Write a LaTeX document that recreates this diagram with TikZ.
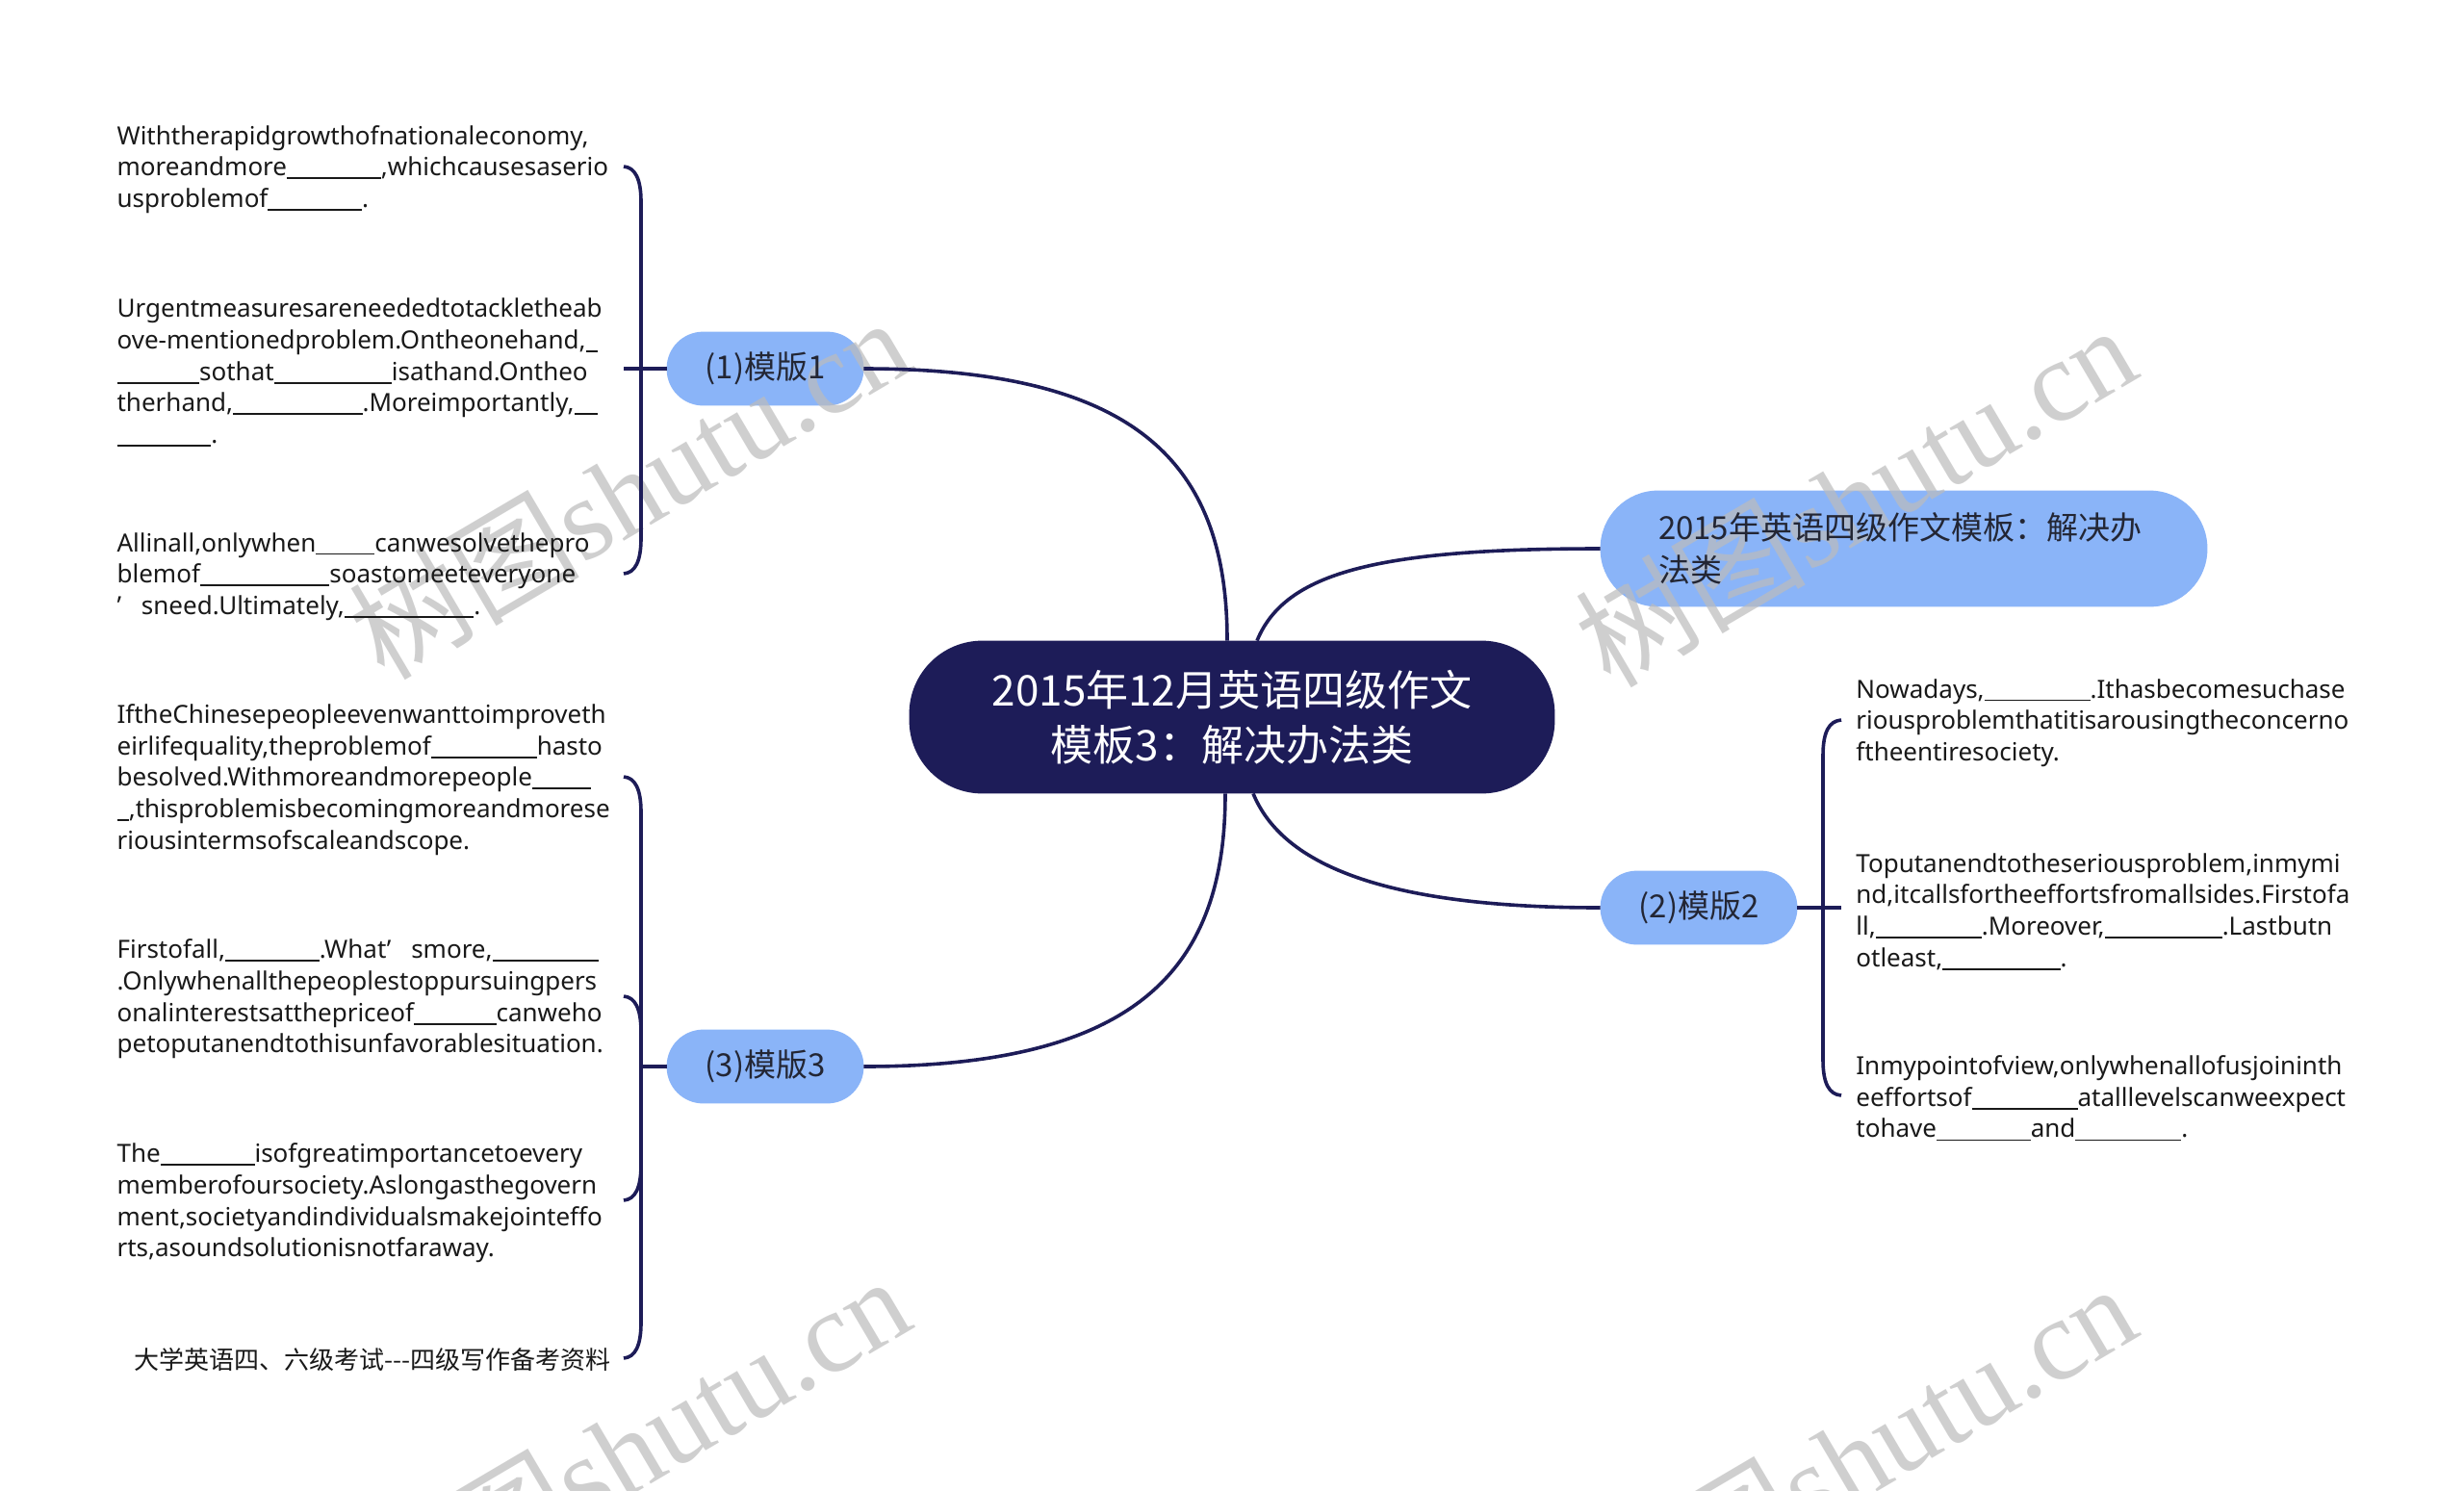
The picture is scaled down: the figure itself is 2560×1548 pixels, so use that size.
\documentclass[tikz,border=0pt]{standalone}
\usepackage{fontspec}
\setmainfont{Noto Sans}
\newfontfamily\cjk{Noto Sans CJK SC}
\newfontfamily\wmfont{Liberation Serif}
\usetikzlibrary{calc}
\definecolor{navy}{RGB}{29,28,88}
\definecolor{lblue}{RGB}{138,180,248}
\definecolor{ink}{RGB}{35,38,52}
\definecolor{notecol}{RGB}{25,25,25}
\definecolor{wmcol}{RGB}{188,188,188}
\newdimen\blkunit
\newcommand\blk[1]{\blkunit=0.47em\relax\rule[-0.13em]{#1\blkunit}{0.07em}}
\pgfdeclarelayer{bg}
\pgfdeclarelayer{wml}
\pgfsetlayers{bg,wml,main}
\begin{document}
\begin{tikzpicture}[x=0.5pt,y=-0.5pt,
  rootbox/.style={text=white, minimum width=335pt, minimum height=79pt,
    align=center, inner sep=0pt, font=\cjk\fontsize{22}{28.5}\selectfont},
  pill/.style={text=ink, minimum width=102pt, minimum height=38pt, inner sep=0pt,
    font=\cjk\fontsize{16.5}{22}\selectfont},
  toppill/.style={text=ink, minimum width=315pt, minimum height=60pt,
    text width=255pt, align=left, inner sep=0pt,
    font=\cjk\fontsize{16.5}{22}\selectfont},
  leftnote/.style={text=notecol, anchor=east, text width=262pt, align=left,
    inner xsep=1pt, inner ysep=0pt, font=\fontsize{13}{16.35}\selectfont},
  leftcn/.style={text=notecol, anchor=east, inner xsep=6.5pt, inner ysep=0pt,
    font=\cjk\fontsize{13}{16.35}\selectfont},
  rightnote/.style={text=notecol, anchor=west, text width=295pt, align=left,
    inner xsep=7.5pt, inner ysep=0pt, font=\fontsize{13}{16.35}\selectfont},
  link/.style={draw=navy, line width=1.8pt},
  wmark/.style={text=wmcol, opacity=0.7, font=\wmfont\fontsize{60}{60}\selectfont, rotate=30.5}
]
\useasboundingbox (0,0) rectangle (2560,1548);

% main nodes
\node[rootbox] (root) at (1280,745) {2015年12月英语四级作文\\模板3：解决办法类};
\node[pill] (m1) at (795,383) {(1)模版1};
\node[pill] (m2) at (1765,943) {(2)模版2};
\node[pill] (m3) at (795,1108) {(3)模版3};
\node[toppill] (top) at (1978,570) {2015年英语四级作文模板：解决办\\法类};

% background and node fills (background layer)
\begin{pgfonlayer}{bg}
\fill[white] (0,0) rectangle (2560,1548);
\fill[navy, rounded corners=38pt] (root.south west) rectangle (root.north east);
\fill[lblue, rounded corners=19pt] (m1.south west) rectangle (m1.north east);
\fill[lblue, rounded corners=19pt] (m2.south west) rectangle (m2.north east);
\fill[lblue, rounded corners=19pt] (m3.south west) rectangle (m3.north east);
\fill[lblue, rounded corners=30pt] (top.south west) rectangle (top.north east);
\end{pgfonlayer}

% left notes of (1)
\node[leftnote] (a1) at (648,176) {Withtherapidgrowthofnationaleconomy,\\moreandmore\blk{8},whichcausesaserio\\usproblemof\blk{8}.};
\node[leftnote] (a2) at (648,387) {Urgentmeasuresareneededtotackletheab\\ove-mentionedproblem.Ontheonehand,\blk{1}\\\blk{7}sothat\blk{10}isathand.Ontheo\\therhand,\blk{11}.Moreimportantly,\blk{2}\\\blk{8}.};
\node[leftnote] (a3) at (648,599) {Allinall,onlywhen\blk{5}canwesolvethepro\\blemof\blk{11}soastomeeteveryone\\’\hspace{0.8em}sneed.Ultimately,\blk{11}.};

% left notes of (3)
\node[leftnote] (b1) at (648,810) {IftheChinesepeopleevenwanttoimproveth\\eirlifequality,theproblemof\blk{9}hasto\\besolved.Withmoreandmorepeople\blk{5}\\\blk{1},thisproblemisbecomingmoreandmorese\\riousintermsofscaleandscope.};
\node[leftnote] (b2) at (648,1038) {Firstofall,\blk{8}.What’\hspace{0.8em}smore,\blk{9}\\.Onlywhenallthepeoplestoppursuingpers\\onalinterestsatthepriceof\blk{7}canweho\\petoputanendtothisunfavorablesituation.};
\node[leftnote] (b3) at (648,1250) {The\blk{8}isofgreatimportancetoevery\\memberofoursociety.Aslongasthegovern\\ment,societyandindividualsmakejointeffo\\rts,asoundsolutionisnotfaraway.};
\node[leftcn] (b4) at (648,1413) {大学英语四、六级考试-{}-{}-四级写作备考资料};

% right notes of (2)
\node[rightnote] (c1) at (1913,751) {Nowadays,\blk{9}.Ithasbecomesuchase\\riousproblemthatitisarousingtheconcerno\\ftheentiresociety.};
\node[rightnote] (c2) at (1913,947) {Toputanendtotheseriousproblem,inmymi\\nd,itcallsfortheeffortsfromallsides.Firstofa\\ll,\blk{9}.Moreover,\blk{10}.Lastbutn\\otleast,\blk{10}.};
\node[rightnote] (c3) at (1913,1141) {Inmypointofview,onlywhenallofusjoininth\\eeffortsof\blk{9}atalllevelscanweexpect\\tohave\blk{8}and\blk{9}.};

% root connectors
\draw[link] ([xshift=-2.5pt]root.north) .. controls (1275,480) and (1180,383) .. (m1.east);
\draw[link] ([xshift=13pt]root.north) .. controls (1335,595) and (1430,570) .. (top.west);
\draw[link] ([xshift=-3.5pt]root.south) .. controls (1273,1008) and (1180,1108) .. (m3.east);
\draw[link] ([xshift=11pt]root.south) .. controls (1331,895) and (1430,943) .. (m2.west);

% brackets of (1)
\draw[link] (m1.west) -- (648,383);
\draw[link] (m1.west) -- (666,383) -- (666,210) .. controls (666,186) and (660,174) .. (648,173);
\draw[link] (m1.west) -- (666,383) -- (666,559) .. controls (666,583) and (660,595) .. (648,596);

% brackets of (3)
\draw[link] (m3.west) -- (666,1108) -- (666,844) .. controls (666,820) and (660,808) .. (648,807);
\draw[link] (m3.west) -- (666,1108) -- (666,1072) .. controls (666,1048) and (660,1036) .. (648,1035);
\draw[link] (m3.west) -- (666,1108) -- (666,1210) .. controls (666,1234) and (660,1246) .. (648,1247);
\draw[link] (m3.west) -- (666,1108) -- (666,1374) .. controls (666,1398) and (660,1410) .. (648,1411);

% brackets of (2)
\draw[link] (m2.east) -- (1913,943);
\draw[link] (m2.east) -- (1894,943) -- (1894,785) .. controls (1894,761) and (1900,749) .. (1913,748);
\draw[link] (m2.east) -- (1894,943) -- (1894,1101) .. controls (1894,1125) and (1900,1137) .. (1913,1138);

% watermarks
\begin{pgfonlayer}{wml}
\node[wmark] (w1) at (653,506) {{\cjk 树图}shutu.cn};
\node[wmark] (w2) at (1927,514) {{\cjk 树图}shutu.cn};
\node[wmark] (w3) at (653,1502) {{\cjk 树图}shutu.cn};
\node[wmark] (w4) at (1927,1510) {{\cjk 树图}shutu.cn};
\end{pgfonlayer}
\end{tikzpicture}
\end{document}
